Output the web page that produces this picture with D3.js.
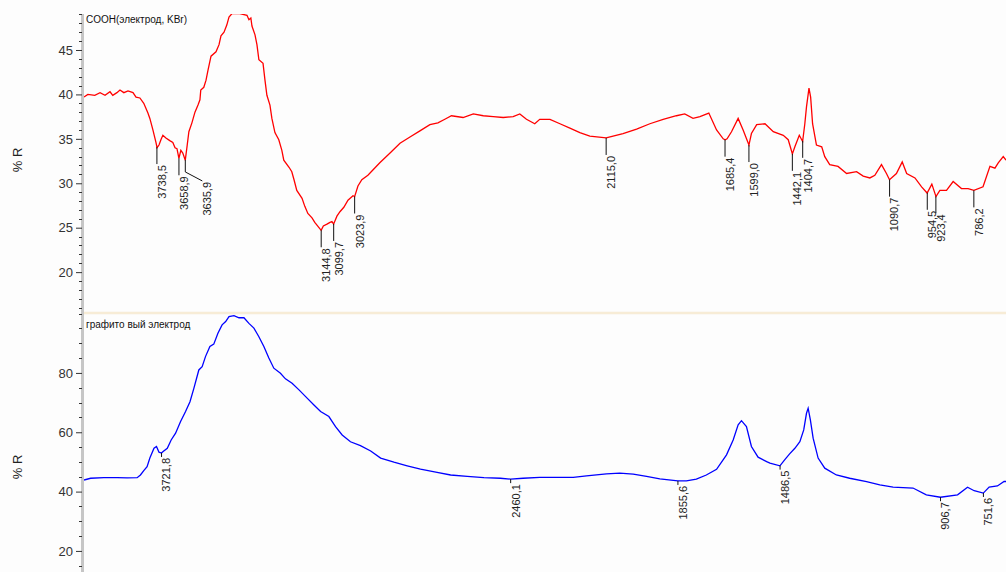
<!DOCTYPE html>
<html>
<head>
<meta charset="utf-8">
<script src="https://cdn.jsdelivr.net/npm/d3@7"></script>
<style>
  html, body { margin: 0; padding: 0; background: #fdfdfd; }
  svg { display: block; font-family: Arial, "Liberation Sans", sans-serif; }
</style>
</head>
<body>
<div id="chart"></div>
<script>
// top spectrum: COOH (electrode, KBr)
const topWn = [4002, 3988, 3963, 3944, 3926, 3908, 3898, 3883, 3872, 3858, 3843, 3825, 3814, 3800, 3786, 3771, 3764, 3753, 3742, 3738,
  3731, 3724, 3717, 3706, 3692, 3681, 3673, 3666, 3659, 3652, 3645, 3636, 3629, 3623, 3612, 3601, 3590, 3583, 3580, 3569,
  3561, 3554, 3543, 3525, 3514, 3507, 3496, 3486, 3478, 3467, 3439, 3413, 3406, 3399, 3395, 3384, 3377, 3370, 3355, 3348,
  3341, 3330, 3323, 3312, 3298, 3287, 3280, 3261, 3251, 3243, 3233, 3214, 3204, 3193, 3178, 3168, 3145, 3137, 3124, 3113,
  3106, 3100, 3088, 3077, 3063, 3048, 3030, 3024, 3012, 2998, 2976, 2958, 2933, 2896, 2860, 2824, 2788, 2752, 2723, 2698,
  2674, 2632, 2595, 2559, 2523, 2487, 2451, 2427, 2403, 2373, 2355, 2318, 2282, 2246, 2210, 2174, 2115, 2090, 2054, 2005,
  1957, 1909, 1861, 1831, 1801, 1776, 1744, 1716, 1692, 1685, 1678, 1662, 1638, 1620, 1599, 1590, 1571, 1541, 1511, 1475,
  1457, 1442, 1433, 1417, 1405, 1397, 1391, 1382, 1376, 1369, 1355, 1336, 1325, 1307, 1277, 1246, 1210, 1186, 1162, 1144,
  1120, 1102, 1091, 1066, 1045, 1029, 999, 975, 955, 938, 923, 909, 885, 861, 831, 807, 786, 753, 728, 710, 698, 680, 670];
const topR = [39.7, 40.0, 39.9, 40.2, 39.9, 40.3, 39.9, 40.2, 40.5, 40.2, 40.4, 40.2, 39.7, 39.6, 39.0, 37.9, 37.3, 36.0, 34.6, 34.0,
  34.3, 34.9, 35.4, 35.1, 34.8, 34.6, 34.0, 33.9, 32.8, 33.7, 33.4, 32.6, 34.3, 35.8, 36.8, 38.0, 38.8, 39.4, 40.5, 40.8,
  41.6, 42.7, 44.3, 44.8, 45.6, 46.6, 47.0, 47.8, 48.7, 49.1, 49.1, 48.9, 48.4, 48.6, 47.7, 46.7, 45.6, 43.9, 43.5, 41.6,
  39.9, 38.8, 37.3, 35.7, 34.9, 33.7, 32.6, 31.8, 31.3, 30.4, 29.2, 28.3, 27.4, 26.6, 26.1, 25.6, 24.7, 25.2, 25.4, 25.6,
  25.7, 25.4, 26.3, 26.8, 27.3, 28.1, 28.6, 28.5, 29.7, 30.4, 30.9, 31.5, 32.3, 33.4, 34.5, 35.2, 35.9, 36.6, 36.8, 37.2,
  37.6, 37.4, 37.8, 37.6, 37.5, 37.4, 37.5, 37.8, 37.2, 36.7, 37.2, 37.2, 36.7, 36.2, 35.7, 35.3, 35.1, 35.3, 35.6, 36.1,
  36.7, 37.2, 37.6, 37.8, 37.3, 37.5, 37.9, 36.0, 35.0, 34.9, 35.0, 35.8, 37.3, 36.0, 34.3, 35.6, 36.6, 36.7, 35.8, 35.4,
  34.9, 33.3, 34.1, 35.4, 34.7, 36.7, 38.6, 40.7, 39.7, 36.7, 34.3, 34.1, 33.0, 32.1, 31.9, 31.1, 31.3, 30.8, 30.6, 30.9,
  32.1, 31.1, 30.4, 31.1, 32.4, 31.1, 30.6, 29.6, 28.9, 29.9, 28.5, 29.2, 29.2, 30.2, 29.4, 29.4, 29.2, 29.6, 31.9, 31.7, 32.3, 33.0, 32.6];
const topPeaks = [3738.5, 3658.9, 3635.9, 3144.8, 3099.7, 3023.9, 2115.0, 1685.4, 1599.0, 1442.1, 1404.7, 1090.7, 954.5, 923.4, 786.2];

// bottom spectrum: graphite electrode
const botWn = [4002, 3978, 3930, 3882, 3846, 3810, 3798, 3786, 3774, 3764, 3749, 3740, 3731, 3722, 3716, 3701, 3687, 3671, 3653, 3635,
  3619, 3605, 3587, 3575, 3563, 3547, 3533, 3518, 3503, 3490, 3478, 3460, 3442, 3424, 3406, 3388, 3370, 3352, 3334, 3316,
  3292, 3274, 3250, 3225, 3201, 3171, 3147, 3117, 3093, 3069, 3039, 3003, 2966, 2930, 2882, 2834, 2786, 2726, 2677, 2617,
  2557, 2497, 2460, 2415, 2355, 2234, 2186, 2114, 2066, 2017, 1969, 1921, 1856, 1825, 1789, 1753, 1716, 1680, 1656, 1638,
  1626, 1608, 1590, 1566, 1535, 1523, 1487, 1470, 1452, 1433, 1415, 1401, 1391, 1385, 1377, 1367, 1349, 1325, 1283, 1235,
  1174, 1126, 1078, 1006, 958, 907, 845, 809, 785, 752, 731, 701, 677, 670];
const botR = [43.9, 44.5, 44.7, 44.7, 44.6, 44.7, 45.6, 47.1, 48.4, 51.3, 54.6, 55.2, 53.3, 53.0, 53.5, 54.6, 57.4, 59.7, 63.6, 67.0,
  70.3, 74.8, 81.0, 82.1, 85.5, 88.9, 89.7, 93.4, 96.2, 97.3, 99.0, 99.3, 98.6, 98.6, 96.7, 95.1, 92.2, 88.9, 85.0, 81.6,
  79.9, 78.0, 76.5, 74.3, 72.0, 69.2, 67.0, 65.3, 61.9, 59.1, 56.8, 55.5, 53.7, 51.3, 49.9, 48.7, 47.6, 46.5, 45.6, 45.1,
  44.7, 44.5, 44.2, 44.5, 44.8, 44.8, 45.3, 46.0, 46.2, 45.9, 45.1, 44.3, 43.6, 43.6, 44.2, 45.6, 47.5, 52.4, 57.4, 62.5,
  63.9, 61.9, 55.2, 51.6, 50.1, 49.6, 48.7, 50.7, 52.7, 54.6, 56.8, 60.8, 66.4, 68.1, 64.2, 58.0, 51.3, 47.9, 45.6, 44.5,
  43.4, 42.3, 41.5, 41.2, 38.9, 38.1, 38.9, 41.5, 40.3, 39.5, 41.5, 41.9, 43.4, 43.4];
const botPeaks = [3721.8, 2460.1, 1855.6, 1486.5, 906.7, 751.6];

const topTicks = [20, 25, 30, 35, 40, 45];
const botTicks = [20, 40, 60, 80];
const topTitle = "COOH(электрод, KBr)";
const botTitle = "графито вый электрод";
const yLabel = "% R";

const W = 1006, H = 572;
const plotLeft = 84, plotRight = 1006;
const split = 313;

const svg = d3.select("#chart").append("svg")
    .attr("width", W)
    .attr("height", H);

svg.append("rect").attr("width", W).attr("height", H).attr("fill", "#fdfdfd");

const x = d3.scaleLinear().domain([4002, 670]).range([plotLeft, plotRight]);

const panels = [
  { wn: topWn, r: topR, peaks: topPeaks, ticks: topTicks, minor: 1, color: "#ff0000",
    y: d3.scaleLinear().domain([15.4, 49.05]).range([split, 14]), top: 14, bottom: split,
    title: topTitle, titleY: 23, lead: 17, labelY: 160 },
  { wn: botWn, r: botR, peaks: botPeaks, ticks: botTicks, minor: 5, color: "#0000ff",
    y: d3.scaleLinear().domain([12.9, 100.2]).range([H, split]), top: split, bottom: H,
    title: botTitle, titleY: 328, lead: 4, labelY: 467 }
];

// separator between the panels
svg.append("line")
    .attr("x1", plotLeft).attr("x2", plotRight)
    .attr("y1", split).attr("y2", split)
    .attr("stroke", "#f7ecd6").attr("stroke-width", 2.5);

// the grey axis bar
svg.append("rect")
    .attr("x", 81).attr("y", 14)
    .attr("width", 3).attr("height", H - 14)
    .attr("fill", "#c6c6c6");

panels.forEach((p, i) => {
  const g = svg.append("g");

  // minor ticks
  const [lo, hi] = p.y.domain();
  const minors = d3.range(Math.ceil(lo / p.minor) * p.minor, hi, p.minor)
      .filter((v) => !p.ticks.includes(v));
  g.selectAll(".minor")
      .data(minors)
      .enter()
      .append("line")
      .attr("x1", 79).attr("x2", 82)
      .attr("y1", (d) => Math.round(p.y(d)) + 0.5)
      .attr("y2", (d) => Math.round(p.y(d)) + 0.5)
      .attr("stroke", "#333");

  // major ticks + labels
  const axis = d3.axisLeft(p.y).tickValues(p.ticks).tickSize(6).tickPadding(3);
  const ag = g.append("g")
      .attr("transform", "translate(82,0)")
      .call(axis);
  ag.select(".domain").remove();
  ag.selectAll("line").attr("stroke", "#333");
  ag.selectAll("text")
      .attr("font-size", 13)
      .attr("fill", "#333")
      .attr("font-family", "Arial, 'Liberation Sans', sans-serif");

  // y label
  g.append("text")
      .attr("transform", `translate(22,${p.labelY}) rotate(-90)`)
      .attr("text-anchor", "middle")
      .attr("font-size", 13)
      .attr("fill", "#222")
      .text(yLabel);

  // title
  g.append("text")
      .attr("x", 86).attr("y", p.titleY)
      .attr("font-size", 10)
      .attr("fill", "#111")
      .text(p.title);

  // spectrum
  const clipId = "clip" + i;
  svg.append("clipPath").attr("id", clipId)
      .append("rect")
      .attr("x", plotLeft).attr("y", p.top)
      .attr("width", plotRight - plotLeft).attr("height", p.bottom - p.top);

  const pts = p.wn.map((w, k) => [w, p.r[k]]);
  const line = d3.line().x((d) => x(d[0])).y((d) => p.y(d[1]));
  g.append("path")
      .datum(pts)
      .attr("clip-path", `url(#${clipId})`)
      .attr("fill", "none")
      .attr("stroke", p.color)
      .attr("stroke-width", 1.3)
      .attr("d", line);

  // peak markers
  const yAt = (w) => {
    const asc = pts.slice().sort((a, b) => a[0] - b[0]);
    const j = d3.bisector((d) => d[0]).left(asc, w);
    if (j <= 0) return asc[0][1];
    if (j >= asc.length) return asc[asc.length - 1][1];
    const a = asc[j - 1], b = asc[j];
    return a[1] + (b[1] - a[1]) * (w - a[0]) / (b[0] - a[0]);
  };

  let prevX = -100;
  p.peaks.forEach((w) => {
    const px = x(w);
    const py = p.y(yAt(w));
    let ex = px, ey = py + p.lead;
    const path = [[px, py], [px, ey]];
    if (px - prevX < 8) {
      // too close to the previous one: bend the leader to the right
      ey = py + 12;
      path[1] = [px, ey];
      ex = px + 17;
      ey = ey + 9;
      path.push([ex, ey]);
    }
    prevX = ex;
    g.append("path")
        .attr("d", d3.line()(path))
        .attr("fill", "none")
        .attr("stroke", "#111")
        .attr("stroke-width", 1);
    g.append("text")
        .attr("transform", `translate(${ex + 5},${ey + 1}) rotate(-90)`)
        .attr("text-anchor", "end")
        .attr("dy", "0.35em")
        .attr("font-size", 11)
        .attr("fill", "#222")
        .text(w.toFixed(1).replace(".", ","));
  });
});
</script>
</body>
</html>
